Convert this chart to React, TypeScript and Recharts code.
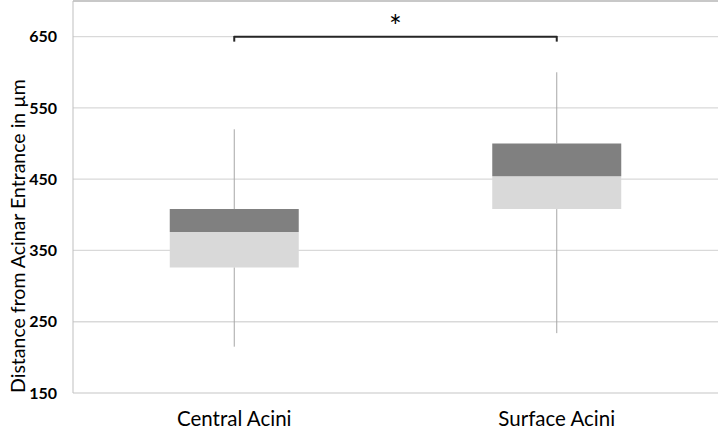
import { ComposedChart, Bar, XAxis, YAxis, CartesianGrid, ReferenceLine } from 'recharts'

const categorias = ['Central Acini', 'Surface Acini']
const minimos = [215, 234]
const cuartil1 = [326, 408]
const medianas = [376, 454]
const cuartil3 = [408, 500]
const maximos = [520, 600]
const ticksY = [150, 250, 350, 450, 550, 650]

const FONT = 'Lato, "Open Sans", sans-serif'

// tabla para las barras apiladas (base invisible + dos mitades de la caja)
const data = categorias.map((name, i) => ({
  name,
  base: cuartil1[i],
  inferior: medianas[i] - cuartil1[i],
  superior: cuartil3[i] - medianas[i],
}))

// etiqueta del eje Y girada
function EtiquetaY() {
  return (
    <text x={17} y={236} transform="rotate(-90 17 236)" textAnchor="middle"
      dominantBaseline="central" fontSize={19.5} fill="#000" fontFamily={FONT}>
      Distance from Acinar Entrance in µm
    </text>
  )
}

export default function App() {
  return (
    <div style={{ position: 'absolute', left: 0, top: 0, background: '#fff' }}>
      <ComposedChart width={720} height={429} data={data} barCategoryGap="30%"
        margin={{ top: 1, right: 2, left: 0, bottom: 0 }}>
        <CartesianGrid vertical={false} stroke="#d9d9d9" strokeWidth={1.3} />
        <XAxis dataKey="name" height={36} tickLine={false} axisLine={false} tickMargin={12}
          tick={{ fontSize: 20.5, fill: '#000', fontFamily: FONT }} />
        <YAxis domain={[150, 700]} ticks={ticksY} allowDataOverflow width={73}
          tickLine={false} tickSize={0} tickMargin={16} axisLine={{ stroke: '#bfbfbf' }}
          tick={{ fontSize: 16, fontWeight: 'bold', fill: '#000', fontFamily: FONT }}
          label={<EtiquetaY />} />
        <YAxis yAxisId="der" orientation="right" domain={[150, 700]} width={0}
          tick={false} tickLine={false} axisLine={{ stroke: '#bfbfbf' }} />
        <ReferenceLine y={700} stroke="#bfbfbf" strokeWidth={1.5} />

        <Bar dataKey="base" stackId="caja" fill="transparent" isAnimationActive={false} />
        <Bar dataKey="inferior" stackId="caja" fill="#d9d9d9" isAnimationActive={false} />
        <Bar dataKey="superior" stackId="caja" fill="#808080" isAnimationActive={false} />

        {categorias.map((c, i) => (
          <ReferenceLine key={'wl' + c} stroke="#a6a6a6" strokeWidth={1}
            segment={[{ x: c, y: minimos[i] }, { x: c, y: cuartil1[i] }]} />
        ))}
        {categorias.map((c, i) => (
          <ReferenceLine key={'wh' + c} stroke="#a6a6a6" strokeWidth={1}
            segment={[{ x: c, y: cuartil3[i] }, { x: c, y: maximos[i] }]} />
        ))}

        {/* corchete de significancia */}
        <ReferenceLine stroke="#262626" strokeWidth={2}
          segment={[{ x: categorias[0], y: 650 }, { x: categorias[1], y: 650 }]}
          label={{ value: '*', position: 'top', offset: 0, fontSize: 30, fill: '#000', fontFamily: FONT }} />
        <ReferenceLine stroke="#262626" strokeWidth={2}
          segment={[{ x: categorias[0], y: 651 }, { x: categorias[0], y: 643 }]} />
        <ReferenceLine stroke="#262626" strokeWidth={2}
          segment={[{ x: categorias[1], y: 651 }, { x: categorias[1], y: 643 }]} />
      </ComposedChart>
    </div>
  )
}
